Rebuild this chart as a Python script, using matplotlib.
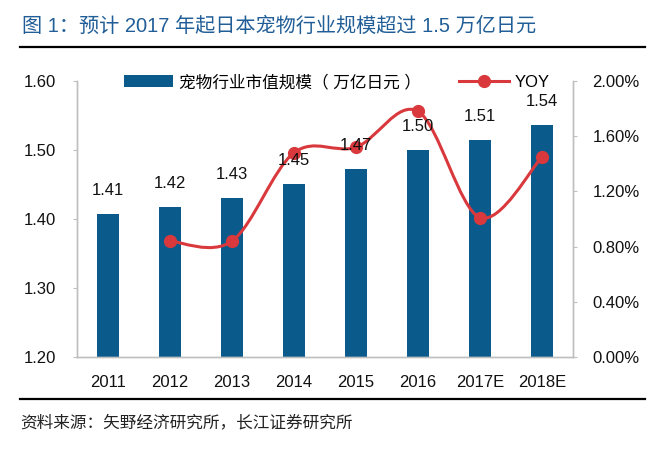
import matplotlib
matplotlib.use("Agg")
import matplotlib.pyplot as plt
from matplotlib.path import Path
from matplotlib.patches import PathPatch, Patch
from matplotlib.lines import Line2D
from matplotlib.ticker import FuncFormatter, MultipleLocator

plt.rcParams['font.family'] = ['Liberation Sans', 'Noto Sans CJK SC']

# data
years = ["2011", "2012", "2013", "2014", "2015", "2016", "2017E", "2018E"]
market_size = [1.407, 1.417, 1.430, 1.451, 1.472, 1.500, 1.514, 1.536]
bar_labels = ["1.41", "1.42", "1.43", "1.45", "1.47", "1.50", "1.51", "1.54"]
yoy_years = ["2012", "2013", "2014", "2015", "2016", "2017E", "2018E"]
yoy = [0.0084, 0.0084, 0.0148, 0.0152, 0.0178, 0.0101, 0.0145]

BLUE = "#0b5a8c"
RED = "#d9393d"
GRAY = "#bfbfbf"

fig = plt.figure(figsize=(6.65, 4.57), dpi=100)
ax = fig.add_axes([77/665, 1 - 357/457, 496/665, 276/457])
ax2 = ax.twinx()

xs = list(range(len(years)))
ax.bar(xs, market_size, width=0.34, color=BLUE, zorder=2)
ax.set_xlim(-0.5, len(years) - 0.5)
ax.set_ylim(1.2, 1.6)
ax.yaxis.set_major_locator(MultipleLocator(0.1))
ax.yaxis.set_major_formatter(FuncFormatter(lambda v, p: "%.2f" % v))
ax.set_xticks(xs)
ax.set_xticklabels(years)

# yoy line, smoothed like excel (catmull-rom bezier)
yx = [years.index(y) for y in yoy_years]
pts = list(zip(yx, yoy))
verts = [pts[0]]
codes = [Path.MOVETO]
for i in range(len(pts) - 1):
  p0 = pts[i - 1] if i > 0 else pts[i]
  p1 = pts[i]
  p2 = pts[i + 1]
  p3 = pts[i + 2] if i + 2 < len(pts) else pts[i + 1]
  c1 = (p1[0] + (p2[0] - p0[0]) / 6, p1[1] + (p2[1] - p0[1]) / 6)
  c2 = (p2[0] - (p3[0] - p1[0]) / 6, p2[1] - (p3[1] - p1[1]) / 6)
  verts += [c1, c2, p2]
  codes += [Path.CURVE4] * 3
ax2.add_patch(PathPatch(Path(verts, codes), facecolor="none", edgecolor=RED,
                        lw=2.2, capstyle="round", zorder=3))
ax2.plot(yx, yoy, ls="none", marker="o", ms=8.5, color=RED, zorder=4)
ax2.set_ylim(0, 0.02)
ax2.yaxis.set_major_locator(MultipleLocator(0.004))
ax2.yaxis.set_major_formatter(FuncFormatter(lambda v, p: "%.2f%%" % (v * 100)))

# value labels
for i, v in enumerate(market_size):
  ax2.annotate(bar_labels[i], xy=(i, v), xycoords=ax.transData,
               xytext=(0, 17), textcoords="offset points",
               ha="center", va="center", fontsize=12, color="#111111", zorder=5)

# axes styling
for a in (ax, ax2):
  a.spines["top"].set_visible(False)
  for s in ("left", "right", "bottom"):
    a.spines[s].set_color(GRAY)
    a.spines[s].set_linewidth(1.0)
ax.tick_params(axis="y", length=3, color=GRAY, pad=12, labelsize=12, labelcolor="#111111")
ax2.tick_params(axis="y", length=3, color=GRAY, pad=11, labelsize=12, labelcolor="#111111")
ax.tick_params(axis="x", length=0, pad=13, labelsize=12, labelcolor="#111111")

# legend
handles = [Patch(facecolor=BLUE, edgecolor="none"),
           Line2D([], [], color=RED, lw=2.2, marker="o", ms=8.5)]
ax2.legend(handles, ["宠物行业市值规模（ 万亿日元 ）", "YOY"], loc="center left",
           bbox_to_anchor=(0.095, 0.996), ncol=2, frameon=False, fontsize=12,
           borderpad=0, borderaxespad=0, handlelength=2.95, handletextpad=0.35,
           columnspacing=2.3)

# title, rules, source
fig.text(22/665, 1 - 26/457, "图 1：预计 2017 年起日本宠物行业规模超过 1.5 万亿日元",
         fontsize=14.5, color="#215e97", va="center", ha="left")
fig.add_artist(Line2D([20/665, 645/665], [1 - 47/457] * 2, color="black", lw=1.6))
fig.add_artist(Line2D([20/665, 645/665], [1 - 399/457] * 2, color="black", lw=1.6))
fig.text(20/665, 1 - 422/457, "资料来源：矢野经济研究所，长江证券研究所",
         fontsize=12, color="#222222", va="center", ha="left")

fig.savefig("out.png", dpi=100)
